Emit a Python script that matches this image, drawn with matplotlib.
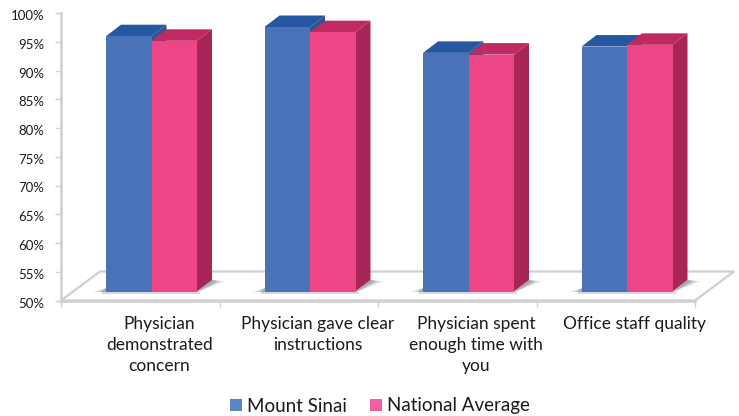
import numpy as np
import matplotlib
matplotlib.use('Agg')
import matplotlib.pyplot as plt
from matplotlib.patches import Patch, Polygon
from matplotlib.transforms import ScaledTranslation

categories = ['Physician\ndemonstrated\nconcern', 'Physician gave clear\ninstructions',
              'Physician spent\nenough time with\nyou', 'Office staff quality']
mount_sinai = [94.4, 96.0, 91.5, 92.6]
national_average = [93.6, 95.1, 91.2, 92.9]
y_ticks = [50, 55, 60, 65, 70, 75, 80, 85, 90, 95, 100]

W, H = 739, 416
X0, X1, Y0, Y1 = 61, 695, 300.5, 13
px_x = 4 / (X1 - X0)
px_y = 50 / (Y0 - Y1)

BLUE, BLUE_TOP = '#4a72b8', '#2557a2'
PINK, PINK_TOP, PINK_SIDE = '#ee4488', '#bf2a62', '#a82558'
BLUE_SIDE = '#2f5590'
GREY = '#cfcfcf'

plt.rcParams['font.family'] = ['Lato', 'DejaVu Sans']

fig = plt.figure(figsize=(W / 100, H / 100), dpi=100)
ax = fig.add_axes([X0 / W, 1 - Y0 / H, (X1 - X0) / W, (Y0 - Y1) / H])
ax.set_xlim(0, 4)
ax.set_ylim(50, 100)

# floor of the 3d box
depth_x = 39 * px_x
depth_y = 29 * px_y
ax.add_patch(Polygon([(0, 50), (4, 50), (4 + depth_x, 50 + depth_y), (depth_x, 50 + depth_y)],
                     closed=True, fc='white', ec=GREY, lw=1.6, clip_on=False, zorder=1))

bar_w = 45.5 * px_x
bar_dx = 15 * px_x
bar_dy = 11.5 * px_y
lift = 9 * px_y
starts = np.arange(4) + 45 * px_x


def draw_faces(x, value, w, front, top, side, order):
    base = 50 + lift
    h = value + lift
    ax.bar(x, value - 50, w, bottom=base, align='edge', color=front, zorder=order, clip_on=False)
    ax.add_patch(Polygon([(x, h), (x + w, h), (x + w + bar_dx, h + bar_dy), (x + bar_dx, h + bar_dy)],
                         closed=True, fc=top, ec='none', clip_on=False, zorder=order - 0.5))
    ax.add_patch(Polygon([(x + w, base), (x + w + bar_dx, base + bar_dy),
                          (x + w + bar_dx, h + bar_dy), (x + w, h)],
                         closed=True, fc=side, ec='none', clip_on=False, zorder=order - 0.5))


for i in range(4):
    x = starts[i]
    # soft shadow on the floor
    base = 50 + lift
    right = x + 2 * bar_w
    for grow, shade in zip([13, 9, 5], ['#e4e8e6', '#c8cfcc', '#a3aeaa']):
        g = grow * px_x
        ax.add_patch(Polygon([(x - g, base - 0.1), (x, base - 0.1), (x, base + 4 * px_y)],
                             closed=True, fc=shade, ec='none', clip_on=False, zorder=2))
        ax.add_patch(Polygon([(right, base - 0.15), (right + bar_dx + g, base + bar_dy * 0.9),
                              (right + bar_dx, base + bar_dy)],
                             closed=True, fc=shade, ec='none', clip_on=False, zorder=2))
    ax.plot([x - 3 * px_x, right + 2 * px_x], [base - 0.2, base - 0.2], color='#d5dad8', lw=1.5,
            clip_on=False, zorder=2)
    draw_faces(x, mount_sinai[i], bar_w, BLUE, BLUE_TOP, BLUE_SIDE, 4)
    draw_faces(x + bar_w, national_average[i], bar_w, PINK, PINK_TOP, PINK_SIDE, 6)

for s in ['top', 'right']:
    ax.spines[s].set_visible(False)
for s in ['left', 'bottom']:
    ax.spines[s].set_color(GREY)
    ax.spines[s].set_linewidth(1.8)

ax.set_yticks(y_ticks)
ax.set_yticklabels(['%d%%' % t for t in y_ticks], fontsize=9.5, color='#1a1a1a')
ax.tick_params(axis='y', length=4, width=1, color=GREY, pad=8)
for label in ax.get_yticklabels():
    label.set_transform(label.get_transform() + ScaledTranslation(0, -2 / 100, fig.dpi_scale_trans))
ax.set_xticks(range(5))
ax.set_xticklabels([])
ax.tick_params(axis='x', which='major', length=4, width=1, color=GREY)
ax.set_xticks(np.arange(4) + 0.5 + 19 * px_x, minor=True)
ax.set_xticklabels(categories, minor=True, fontsize=12.5, color='#1a1a1a', linespacing=1.38)
ax.tick_params(axis='x', which='minor', length=0, pad=11.5)

handles = [Patch(fc='#5b86c6', label='Mount Sinai'), Patch(fc='#f4609f', label='National Average')]
fig.legend(handles=handles, loc='center', bbox_to_anchor=(380 / W, 1 - 406 / H), ncol=2, frameon=False,
           fontsize=13.5, handlelength=0.64, handleheight=0.64, handletextpad=0.27, columnspacing=1.25,
           labelcolor='#1a1a1a')

fig.savefig('out.png', dpi=100)
